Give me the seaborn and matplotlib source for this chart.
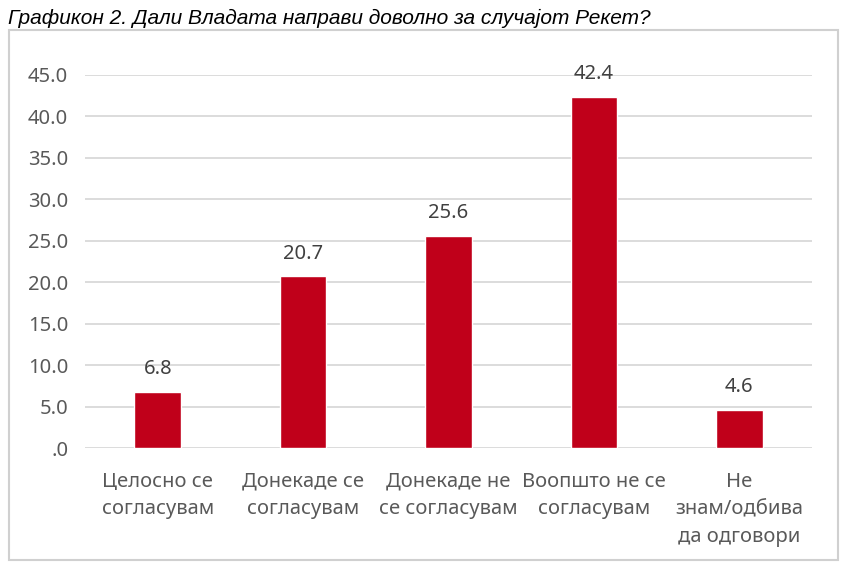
import matplotlib
matplotlib.use("Agg")
import matplotlib.pyplot as plt
import seaborn as sns
import pandas as pd
from matplotlib.patches import Rectangle

categories = ["Целосно се\nсогласувам", "Донекаде се\nсогласувам", "Донекаде не\nсе согласувам",
              "Воопшто не се\nсогласувам", "Не\nзнам/одбива\nда одговори"]
values = [6.8, 20.7, 25.6, 42.4, 4.6]
yticks = [0, 5, 10, 15, 20, 25, 30, 35, 40, 45]
ytick_labels = [".0", "5.0", "10.0", "15.0", "20.0", "25.0", "30.0", "35.0", "40.0", "45.0"]
title = "Графикон 2. Дали Владата направи доволно за случајот Рекет?"

sns.set_style("white")
plt.rcParams['font.family'] = ['Noto Sans', 'DejaVu Sans']

df = pd.DataFrame({"cat": categories, "val": values})

fig = plt.figure(figsize=(8.41, 5.64), dpi=100)
fig.patch.set_facecolor("white")
ax = fig.add_axes([85/841, 116/564, 727/841, 373/564])

sns.barplot(data=df, x="cat", y="val", color="#C0001A", width=0.32, ax=ax, saturation=1)

ax.set_ylim(0, 45)
ax.set_xlim(-0.5, 4.5)
ax.set_yticks(yticks)
ax.set_yticklabels(ytick_labels)
ax.set_xlabel("")
ax.set_ylabel("")
ax.yaxis.grid(True, color="#D9D9D9", linewidth=1.3)
ax.set_axisbelow(True)
for s in ax.spines.values():
    s.set_visible(False)
ax.tick_params(axis="y", length=0, pad=12, labelsize=14.5, labelcolor="#595959")
ax.tick_params(axis="x", length=0, pad=17, labelsize=14.5, labelcolor="#595959")
for lbl in ax.get_xticklabels():
    lbl.set_linespacing(1.5)

for i, v in enumerate(values):
    ax.annotate(f"{v:.1f}", (i, v), xytext=(0, 9), textcoords="offset points",
                ha="center", va="bottom", fontsize=14.5, color="#404040")

fig.add_artist(Rectangle((9/841, 4/564), 829/841, 530/564, transform=fig.transFigure,
                         fill=False, edgecolor="#D0D0D0", linewidth=1.5))
fig.text(8/841, 1 - 18/564, title, fontsize=15, style="italic", va="center", ha="left",
         family=["Liberation Sans", "DejaVu Sans"], color="#000000")

fig.savefig("out.png", dpi=100)
